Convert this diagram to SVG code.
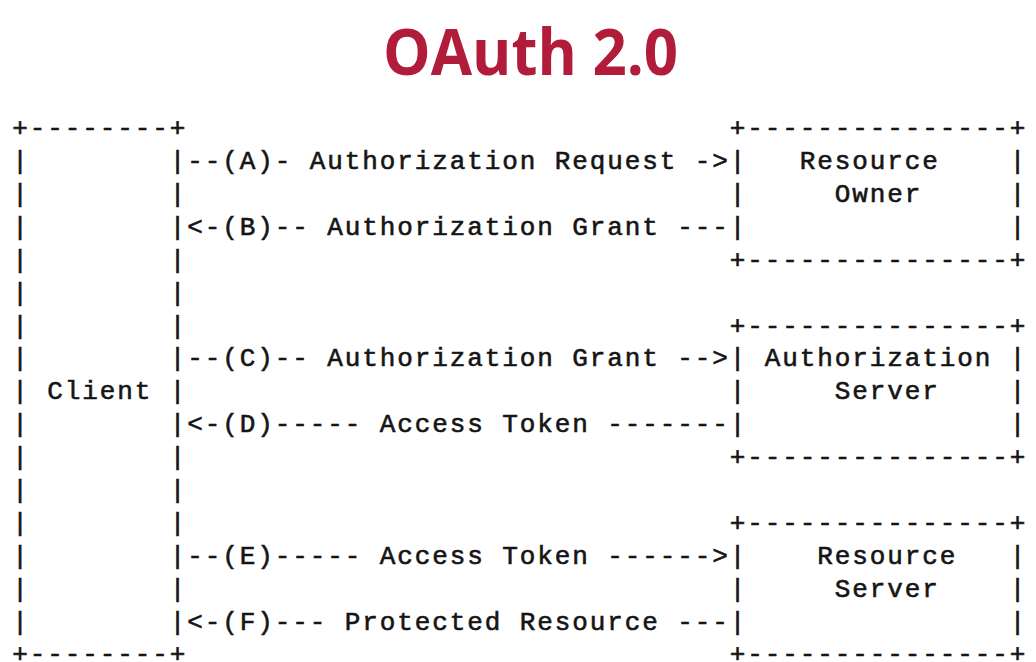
<svg xmlns="http://www.w3.org/2000/svg" width="1036" height="662" viewBox="0 0 1036 662">
<style>
.t{font-family:"Liberation Mono","DejaVu Sans Mono",monospace;font-size:26px;letter-spacing:1.9px;fill:#151515;stroke:#151515;stroke-width:0.6px;white-space:pre}
.title{font-family:"Open Sans","Liberation Sans",sans-serif;font-weight:bold;font-size:64px;fill:#b01c3a}
</style>
<rect width="1036" height="662" fill="#ffffff"/>
<text class="title" x="383" y="75" textLength="295" lengthAdjust="spacingAndGlyphs">OAuth 2.0</text>
<g id="client">
<text class="t" x="12.2" y="136" xml:space="preserve">+--------+</text>
<text class="t" x="12.2" y="169" xml:space="preserve">|        |</text>
<text class="t" x="12.2" y="202" xml:space="preserve">|        |</text>
<text class="t" x="12.2" y="235" xml:space="preserve">|        |</text>
<text class="t" x="12.2" y="268" xml:space="preserve">|        |</text>
<text class="t" x="12.2" y="301" xml:space="preserve">|        |</text>
<text class="t" x="12.2" y="334" xml:space="preserve">|        |</text>
<text class="t" x="12.2" y="366" xml:space="preserve">|        |</text>
<text class="t" x="12.2" y="399" xml:space="preserve">| Client |</text>
<text class="t" x="12.2" y="432" xml:space="preserve">|        |</text>
<text class="t" x="12.2" y="465" xml:space="preserve">|        |</text>
<text class="t" x="12.2" y="498" xml:space="preserve">|        |</text>
<text class="t" x="12.2" y="531" xml:space="preserve">|        |</text>
<text class="t" x="12.2" y="564" xml:space="preserve">|        |</text>
<text class="t" x="12.2" y="597" xml:space="preserve">|        |</text>
<text class="t" x="12.2" y="630" xml:space="preserve">|        |</text>
<text class="t" x="12.2" y="662" xml:space="preserve">+--------+</text>
</g>
<g id="resource-owner">
<text class="t" x="729.7" y="136" xml:space="preserve">+---------------+</text>
<text class="t" x="729.7" y="169" xml:space="preserve">|   Resource    |</text>
<text class="t" x="729.7" y="202" xml:space="preserve">|     Owner     |</text>
<text class="t" x="729.7" y="235" xml:space="preserve">|               |</text>
<text class="t" x="729.7" y="268" xml:space="preserve">+---------------+</text>
</g>
<g id="authorization-server">
<text class="t" x="729.7" y="334" xml:space="preserve">+---------------+</text>
<text class="t" x="729.7" y="366" xml:space="preserve">| Authorization |</text>
<text class="t" x="729.7" y="399" xml:space="preserve">|     Server    |</text>
<text class="t" x="729.7" y="432" xml:space="preserve">|               |</text>
<text class="t" x="729.7" y="465" xml:space="preserve">+---------------+</text>
</g>
<g id="resource-server">
<text class="t" x="729.7" y="531" xml:space="preserve">+---------------+</text>
<text class="t" x="729.7" y="564" xml:space="preserve">|    Resource   |</text>
<text class="t" x="729.7" y="597" xml:space="preserve">|     Server    |</text>
<text class="t" x="729.7" y="630" xml:space="preserve">|               |</text>
<text class="t" x="729.7" y="662" xml:space="preserve">+---------------+</text>
</g>
<g id="connectors">
<text class="t" x="187.2" y="169" xml:space="preserve">--(A)- Authorization Request -&gt;</text>
<text class="t" x="187.2" y="235" xml:space="preserve">&lt;-(B)-- Authorization Grant ---</text>
<text class="t" x="187.2" y="366" xml:space="preserve">--(C)-- Authorization Grant --&gt;</text>
<text class="t" x="187.2" y="432" xml:space="preserve">&lt;-(D)----- Access Token -------</text>
<text class="t" x="187.2" y="564" xml:space="preserve">--(E)----- Access Token ------&gt;</text>
<text class="t" x="187.2" y="630" xml:space="preserve">&lt;-(F)--- Protected Resource ---</text>
</g>
</svg>
